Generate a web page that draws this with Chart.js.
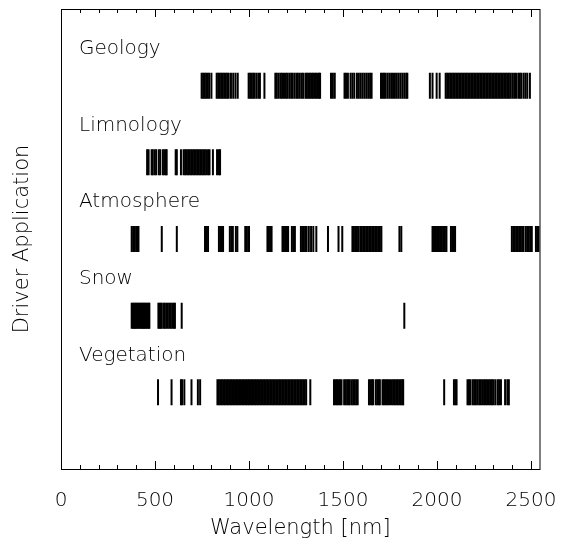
<!DOCTYPE html>
<html>
<head>
<meta charset="utf-8">
<script src="https://cdn.jsdelivr.net/npm/chart.js@4/dist/chart.umd.min.js"></script>
<style>
  html, body { margin: 0; padding: 0; background: #fff; }
  #wrap { width: 569px; height: 549px; }
</style>
</head>
<body>
<div id="wrap"><canvas id="chart"></canvas></div>
<script>
// Driver applications, top to bottom
const categories = ['Geology', 'Limnology', 'Atmosphere', 'Snow', 'Vegetation'];

// Band centres (nm)
const geology = [748, 756, 764, 772, 780, 788, 800, 828, 836, 844, 852, 860, 868, 876, 884,
  892, 904, 916, 928, 940, 998, 1006, 1014, 1022, 1030, 1040, 1050, 1058, 1082,
  1140, 1148, 1158, 1168, 1176, 1186, 1196, 1204, 1214, 1224, 1232, 1242, 1252, 1260, 1270, 1280, 1288,
  1300, 1308, 1316, 1324, 1332, 1340, 1348, 1356, 1364, 1372, 1378, 1436, 1446, 1456,
  1508, 1516, 1526, 1540, 1550, 1560, 1574, 1584, 1594, 1604, 1614, 1624, 1634, 1644, 1652,
  1702, 1710, 1718, 1726, 1736, 1746, 1756, 1766, 1776, 1786, 1796, 1806, 1816, 1826, 1836, 1842,
  1962, 1976, 1998, 2014, 2046, 2054, 2062, 2070, 2078, 2086, 2094, 2102, 2110, 2118, 2126, 2134,
  2142, 2150, 2158, 2166, 2174, 2182, 2190, 2198, 2206, 2214, 2222, 2230, 2238, 2246, 2254, 2262,
  2270, 2278, 2286, 2294, 2302, 2310, 2318, 2326, 2334, 2342, 2350, 2358, 2366, 2374, 2382, 2390,
  2400, 2410, 2420, 2432, 2440, 2448, 2460, 2470, 2480, 2494];
const limnology = [458, 466, 482, 488, 498, 506, 520, 528, 542, 550, 558, 562, 610, 616, 638,
  652, 660, 668, 676, 684, 692, 700, 708, 716, 724, 732, 740, 748, 756, 764, 772,
  782, 790, 808, 830, 840, 846];
const atmosphere = [376, 384, 392, 400, 408, 412, 536, 616, 766, 772, 782, 840, 848, 856, 862,
  898, 906, 914, 930, 938, 980, 988, 996, 1000, 1098, 1106, 1114, 1120,
  1178, 1186, 1194, 1202, 1208, 1228, 1236, 1244, 1276, 1284, 1292, 1300, 1306,
  1318, 1330, 1342, 1358, 1420, 1476, 1496,
  1550, 1558, 1566, 1574, 1582, 1592, 1600, 1608, 1616, 1624, 1632, 1640, 1648, 1656,
  1664, 1672, 1680, 1688, 1696, 1704, 1800, 1810,
  1976, 1984, 1992, 2000, 2008, 2016, 2026, 2034, 2042, 2050, 2074, 2082, 2090, 2096,
  2398, 2406, 2414, 2422, 2430, 2438, 2446, 2454, 2460, 2472, 2480, 2488, 2496, 2504,
  2526, 2534, 2542];
const snow = [376, 382, 388, 394, 400, 406, 412, 418, 424, 430, 436, 442, 448, 454, 460, 466, 470,
  518, 524, 530, 536, 546, 552, 560, 568, 576, 584, 592, 600, 606, 642, 1826];
const vegetation = [516, 588, 638, 644, 656, 694, 728, 740,
  832, 840, 848, 856, 864, 872, 880, 888, 896, 904, 912, 920, 928, 936, 944, 952, 960,
  968, 976, 984, 992, 1000, 1008, 1016, 1024, 1032, 1040, 1048, 1056, 1064, 1072, 1080,
  1088, 1096, 1104, 1112, 1120, 1128, 1136, 1144, 1152, 1160, 1168, 1176, 1184, 1192,
  1200, 1208, 1216, 1224, 1232, 1240, 1248, 1256, 1264, 1272, 1280, 1288, 1296, 1304, 1326,
  1452, 1460, 1468, 1476, 1484, 1492, 1506, 1514, 1522, 1530, 1536,
  1546, 1554, 1562, 1570, 1578, 1638, 1646, 1654, 1660, 1674, 1682, 1690, 1696,
  1710, 1718, 1726, 1734, 1742, 1750, 1760, 1768, 1776, 1784, 1792, 1800, 1808, 1816, 1820,
  2038, 2090, 2098, 2104, 2162, 2170, 2178, 2190, 2198, 2206, 2214, 2224, 2232, 2240,
  2250, 2258, 2266, 2276, 2284, 2292, 2300, 2310, 2322, 2330, 2340, 2362, 2374, 2382];

const bands = [geology, limnology, atmosphere, snow, vegetation];
const xTicks = [0, 500, 1000, 1500, 2000, 2500];

const FONT = "'DejaVu Sans', sans-serif";
const WEIGHT = 200;

// frame, inward ticks and row labels
const framePlugin = {
  id: 'frame',
  afterDatasetsDraw(chart) {
    const { ctx, chartArea: a, scales: { x, y } } = chart;
    ctx.save();
    ctx.strokeStyle = '#000';
    ctx.lineWidth = 1;
    ctx.strokeRect(a.left + 0.5, a.top + 0.5, a.right - a.left, a.bottom - a.top);
    ctx.beginPath();
    for (let v = 0; v <= 2500; v += 100) {
      const px = Math.round(x.getPixelForValue(v)) + 0.5;
      const len = v % 500 === 0 ? 8 : 4;
      ctx.moveTo(px, a.bottom);
      ctx.lineTo(px, a.bottom - len);
      ctx.moveTo(px, a.top);
      ctx.lineTo(px, a.top + len);
    }
    ctx.stroke();
    ctx.fillStyle = '#000';
    ctx.font = WEIGHT + ' 20px ' + FONT;
    ctx.textBaseline = 'middle';
    ctx.textAlign = 'left';
    categories.forEach((name, i) => {
      const level = categories.length - i;
      ctx.fillText(name, x.getPixelForValue(0) + 18, y.getPixelForValue(level + 0.48));
    });
    ctx.restore();
  }
};

document.addEventListener('DOMContentLoaded', () => {
  const ctx = document.getElementById('chart').getContext('2d');
  new Chart(ctx, {
    type: 'scatter',
    data: {
      datasets: categories.map((name, i) => ({
        label: name,
        data: bands[i].map(w => ({ x: w, y: categories.length - i })),
        pointStyle: 'line',
        rotation: 90,
        pointRadius: 13,
        borderWidth: 2,
        borderColor: '#000',
        backgroundColor: '#000'
      }))
    },
    options: {
      responsive: true,
      maintainAspectRatio: false,
      animation: false,
      events: [],
      layout: { autoPadding: false, padding: { top: 9, right: 29, left: 0, bottom: 0 } },
      plugins: { legend: { display: false }, tooltip: { enabled: false } },
      scales: {
        x: {
          type: 'linear',
          min: 0,
          max: 2545,
          afterBuildTicks: s => { s.ticks = xTicks.map(v => ({ value: v })); },
          afterFit: s => { s.height = 80; },
          grid: { display: false },
          border: { display: false },
          ticks: {
            color: '#000',
            font: { family: FONT, size: 20, weight: WEIGHT },
            padding: 12,
            maxRotation: 0,
            callback: v => String(v)
          },
          title: {
            display: true,
            text: 'Wavelength [nm]',
            color: '#000',
            font: { family: FONT, size: 21, weight: WEIGHT },
            padding: { top: 0, bottom: 8 }
          }
        },
        y: {
          type: 'linear',
          min: 0,
          max: 6,
          afterFit: s => { s.width = 61; },
          grid: { display: false },
          border: { display: false },
          ticks: { display: false },
          title: {
            display: true,
            text: 'Driver Application',
            color: '#000',
            font: { family: FONT, size: 21, weight: WEIGHT },
            padding: { top: 10, bottom: 0 }
          }
        }
      }
    },
    plugins: [framePlugin]
  });
});
</script>
</body>
</html>
